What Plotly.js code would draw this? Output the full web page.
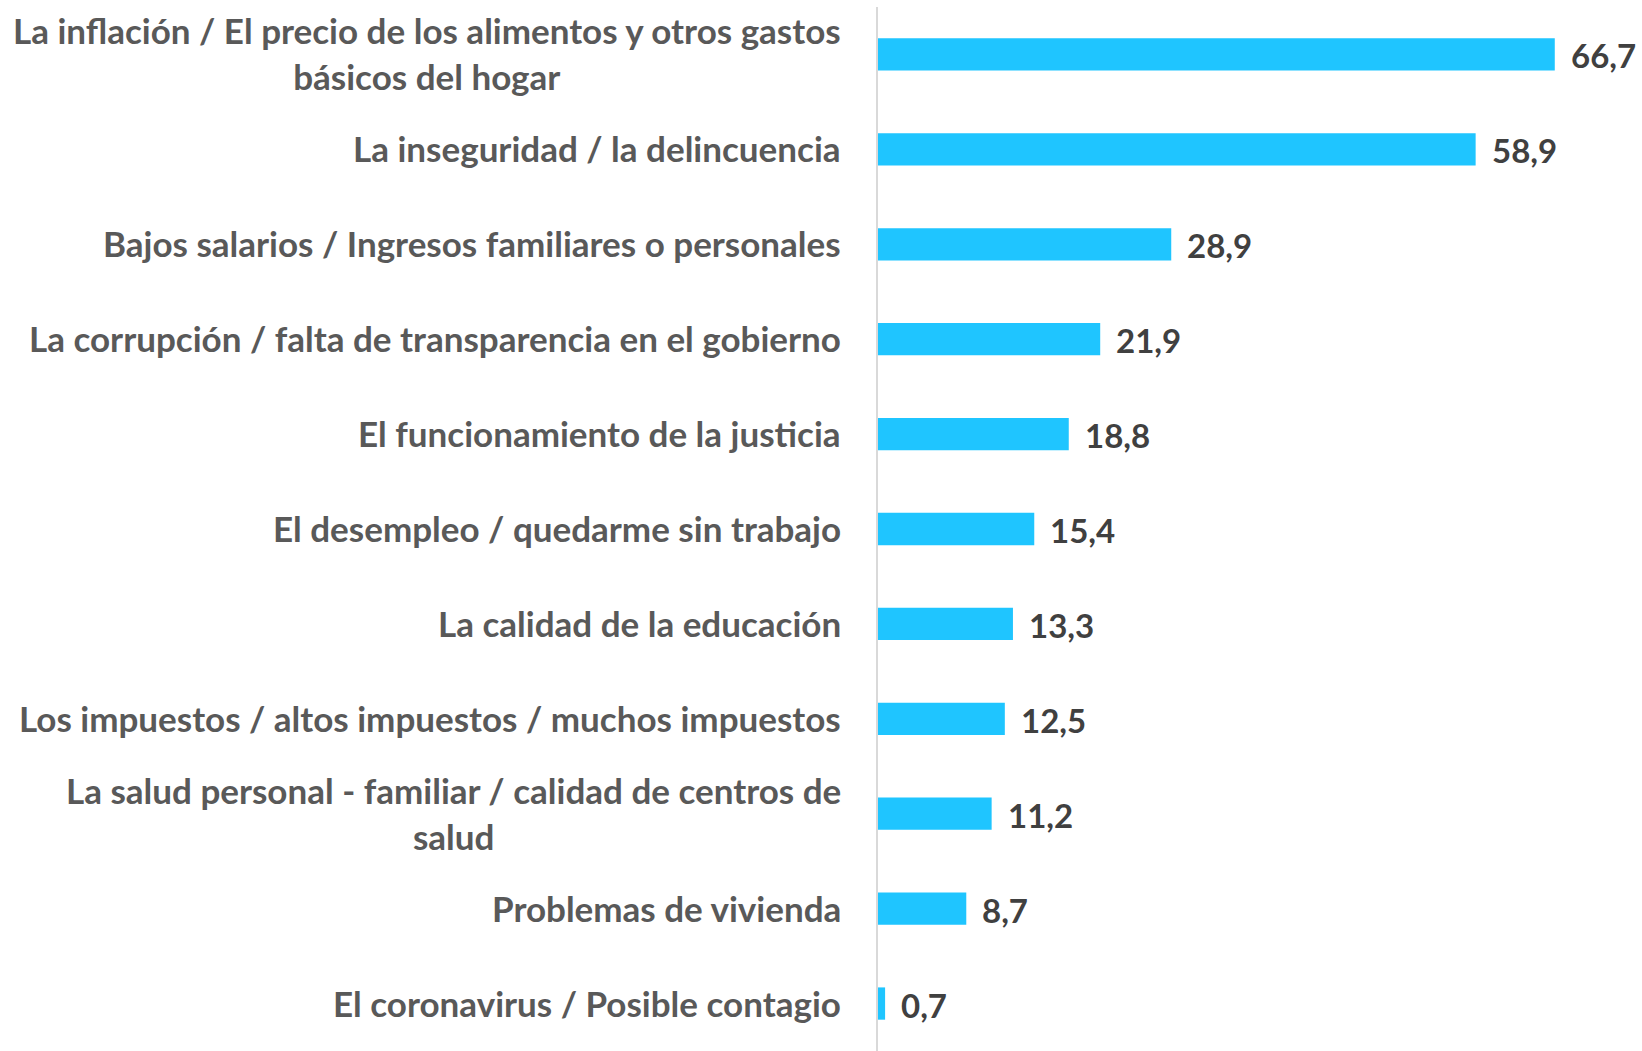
<!DOCTYPE html>
<html>
<head>
<meta charset="utf-8">
<script src="https://cdn.plot.ly/plotly-3.0.1.min.js"></script>
<style>html,body{margin:0;padding:0;background:#fff;}#chart{width:1642px;height:1051px;}</style>
</head>
<body>
<div id="chart"></div>
<script>
const categories = [
  "La inflación / El precio de los alimentos y otros gastos<br>básicos del hogar",
  "La inseguridad / la delincuencia",
  "Bajos salarios / Ingresos familiares o personales",
  "La corrupción / falta de transparencia en el gobierno",
  "El funcionamiento de la justicia",
  "El desempleo / quedarme sin trabajo",
  "La calidad de la educación",
  "Los impuestos / altos impuestos / muchos impuestos",
  "La salud personal - familiar / calidad de centros de<br>salud",
  "Problemas de vivienda",
  "El coronavirus / Posible contagio"
];
const values = [66.7, 58.9, 28.9, 21.9, 18.8, 15.4, 13.3, 12.5, 11.2, 8.7, 0.7];

const FONT = "'Liberation Sans Narrow', 'Arial Narrow', Lato, sans-serif";

const labelAnnotations = categories.map((c) => ({
  xref: 'paper', yref: 'y', x: 0, y: c, xanchor: 'right', yanchor: 'middle',
  xshift: -35, yshift: 1, text: '<b>' + c + '</b>', showarrow: false, align: 'center',
  font: {family: FONT, size: 35, color: '#595959'}
}));
const valueAnnotations = categories.map((c, i) => ({
  xref: 'x', yref: 'y', x: values[i], y: c, xanchor: 'left', yanchor: 'middle',
  xshift: 14, yshift: -1, text: '<b>' + values[i].toFixed(1).replace('.', ',') + '</b>', showarrow: false,
  font: {family: FONT, size: 33, color: '#404040'}
}));

Plotly.newPlot('chart', [{
  type: 'bar', orientation: 'h', x: values, y: categories,
  marker: {color: '#1FC5FF'}, hoverinfo: 'none'
}], {
  width: 1642, height: 1051,
  margin: {l: 878, r: 3, t: 7, b: 0},
  bargap: 0.66,
  paper_bgcolor: '#fff', plot_bgcolor: '#fff',
  showlegend: false,
  xaxis: {range: [0, 75], showgrid: false, zeroline: false, showticklabels: false, showline: false, fixedrange: true},
  yaxis: {autorange: 'reversed', showticklabels: false, showgrid: false, zeroline: false,
          showline: true, linecolor: '#D9D9D9', linewidth: 2, ticks: '', fixedrange: true},
  annotations: labelAnnotations.concat(valueAnnotations)
}, {staticPlot: true});
</script>
</body>
</html>
